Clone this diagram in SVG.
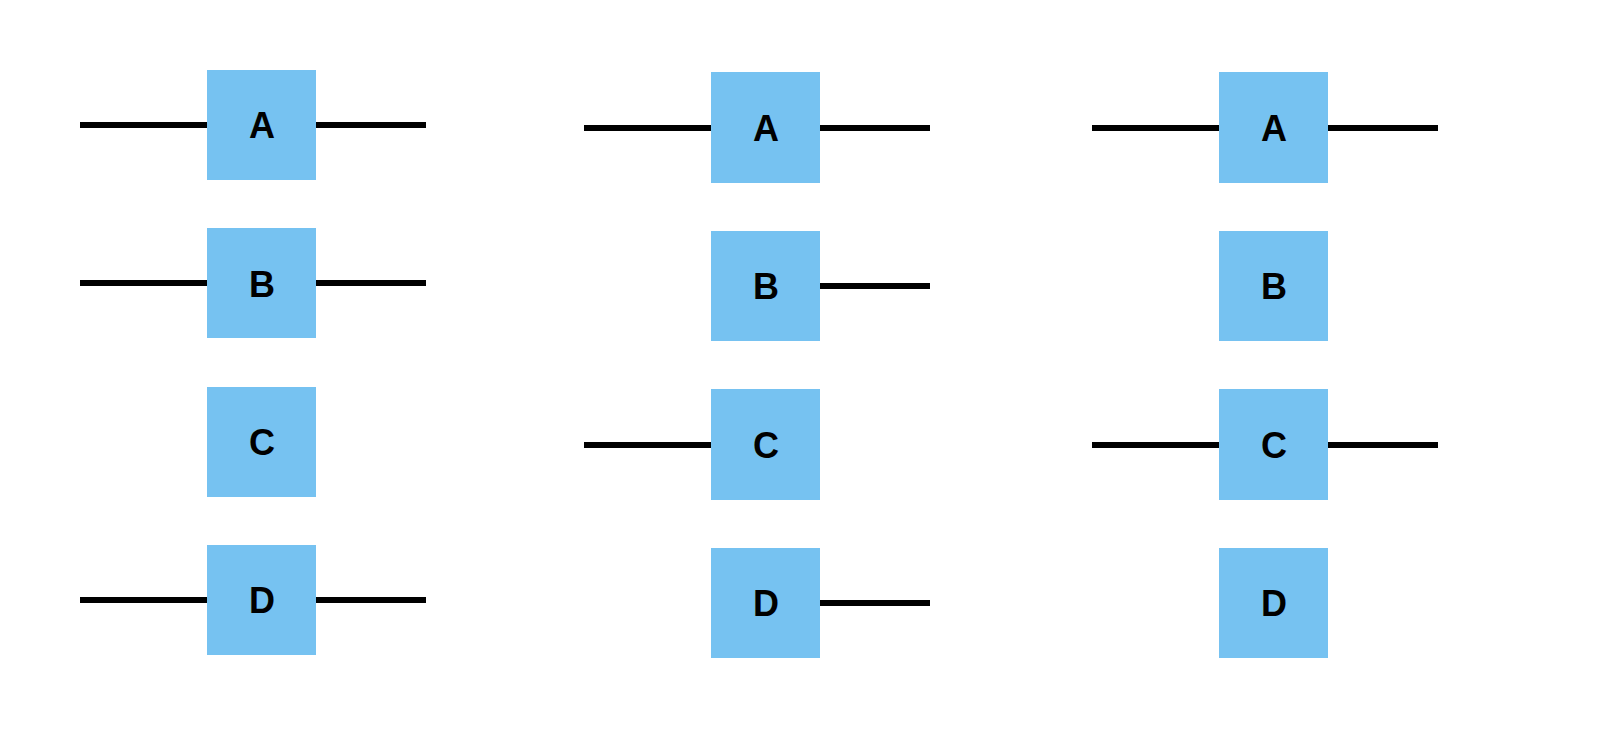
<svg xmlns="http://www.w3.org/2000/svg" width="1606" height="748" viewBox="0 0 1606 748">
<style>
.box{fill:#76C2F1}
.lbl{font-family:"Liberation Sans",Arial,sans-serif;font-weight:bold;font-size:36px;fill:#000;text-anchor:middle}
.wire{stroke:#000;stroke-width:6;fill:none}
</style>
<rect width="1606" height="748" fill="#fff"/>
<g id="connectors">
<line class="wire" x1="80" y1="125" x2="207" y2="125"/>
<line class="wire" x1="316" y1="125" x2="426" y2="125"/>
<line class="wire" x1="80" y1="283" x2="207" y2="283"/>
<line class="wire" x1="316" y1="283" x2="426" y2="283"/>
<line class="wire" x1="80" y1="600" x2="207" y2="600"/>
<line class="wire" x1="316" y1="600" x2="426" y2="600"/>
<line class="wire" x1="584" y1="128" x2="711" y2="128"/>
<line class="wire" x1="820" y1="128" x2="930" y2="128"/>
<line class="wire" x1="820" y1="286" x2="930" y2="286"/>
<line class="wire" x1="584" y1="445" x2="711" y2="445"/>
<line class="wire" x1="820" y1="603" x2="930" y2="603"/>
<line class="wire" x1="1092" y1="128" x2="1219" y2="128"/>
<line class="wire" x1="1328" y1="128" x2="1438" y2="128"/>
<line class="wire" x1="1092" y1="445" x2="1219" y2="445"/>
<line class="wire" x1="1328" y1="445" x2="1438" y2="445"/>
</g>
<g id="c1-A"><rect class="box" x="207" y="70" width="109" height="110"/><text class="lbl" x="262" y="138">A</text></g>
<g id="c1-B"><rect class="box" x="207" y="228" width="109" height="110"/><text class="lbl" x="262" y="297">B</text></g>
<g id="c1-C"><rect class="box" x="207" y="387" width="109" height="110"/><text class="lbl" x="262" y="455">C</text></g>
<g id="c1-D"><rect class="box" x="207" y="545" width="109" height="110"/><text class="lbl" x="262" y="613">D</text></g>
<g id="c2-A"><rect class="box" x="711" y="72" width="109" height="111"/><text class="lbl" x="766" y="141">A</text></g>
<g id="c2-B"><rect class="box" x="711" y="231" width="109" height="110"/><text class="lbl" x="766" y="299">B</text></g>
<g id="c2-C"><rect class="box" x="711" y="389" width="109" height="111"/><text class="lbl" x="766" y="458">C</text></g>
<g id="c2-D"><rect class="box" x="711" y="548" width="109" height="110"/><text class="lbl" x="766" y="616">D</text></g>
<g id="c3-A"><rect class="box" x="1219" y="72" width="109" height="111"/><text class="lbl" x="1274" y="141">A</text></g>
<g id="c3-B"><rect class="box" x="1219" y="231" width="109" height="110"/><text class="lbl" x="1274" y="299">B</text></g>
<g id="c3-C"><rect class="box" x="1219" y="389" width="109" height="111"/><text class="lbl" x="1274" y="458">C</text></g>
<g id="c3-D"><rect class="box" x="1219" y="548" width="109" height="110"/><text class="lbl" x="1274" y="616">D</text></g>
</svg>
